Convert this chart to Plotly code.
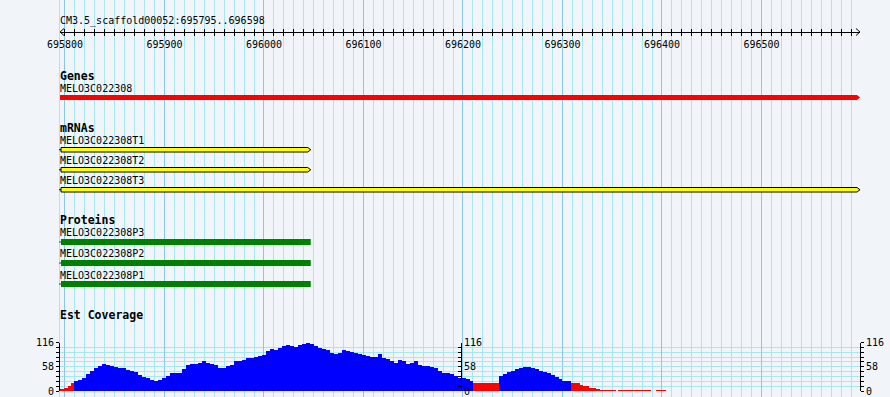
import plotly.graph_objects as go

# ---------------- data ----------------
region_start = 695795
region_end = 696598
ruler_title = "CM3.5_scaffold00052:695795..696598"
ruler_tick0 = 695800

gene_names = ["MELO3C022308"]
gene_starts = [695795]
gene_ends = [696599]

mrna_names = ["MELO3C022308T1", "MELO3C022308T2", "MELO3C022308T3"]
mrna_starts = [695796, 695796, 695796]
mrna_ends = [696047, 696047, 696599]

protein_names = ["MELO3C022308P3", "MELO3C022308P2", "MELO3C022308P1"]
protein_starts = [695796, 695796, 695796]
protein_ends = [696047, 696047, 696047]

track_titles = ["Genes", "mRNAs", "Proteins", "Est Coverage"]

cov_pos = [695795, 695799, 695803, 695806, 695809, 695813, 695817, 695821, 695825, 695829,
           695833, 695837, 695841, 695845, 695849, 695853, 695857, 695861, 695865, 695869,
           695873, 695877, 695881, 695885, 695889, 695893, 695898, 695902, 695906, 695910,
           695914, 695918, 695922, 695926, 695930, 695934, 695938, 695942, 695946, 695950,
           695954, 695958, 695962, 695966, 695970, 695974, 695978, 695982, 695986, 695990,
           695994, 695998, 696002, 696006, 696010, 696014, 696018, 696022, 696026, 696030,
           696034, 696038, 696042, 696046, 696050, 696054, 696058, 696062, 696066, 696070,
           696074, 696078, 696082, 696086, 696090, 696094, 696099, 696103, 696107, 696111,
           696115, 696119, 696123, 696127, 696131, 696135, 696139, 696143, 696147, 696151,
           696155, 696159, 696163, 696167, 696171, 696175, 696179, 696183, 696187, 696191,
           696195, 696199, 696203, 696207, 696210, 696236, 696240, 696244, 696248, 696252,
           696256, 696260, 696264, 696268, 696272, 696276, 696280, 696284, 696288, 696292,
           696296, 696300, 696304, 696309, 696318, 696321, 696327, 696334, 696338, 696354,
           696356, 696389, 696394]
cov_val = [5, 8, 13, 18, 25, 27, 31, 40, 48, 55,
           60, 64, 62, 59, 57, 56, 54, 50, 48, 45,
           39, 33, 30, 27, 23, 27, 31, 37, 42, 44,
           44, 52, 63, 64, 65, 68, 71, 68, 65, 63,
           55, 55, 59, 63, 71, 71, 74, 80, 80, 82,
           84, 87, 96, 100, 97, 104, 108, 110, 108, 105,
           111, 113, 115, 112, 108, 104, 101, 97, 91, 89,
           92, 97, 95, 93, 92, 88, 85, 84, 82, 81,
           89, 78, 76, 72, 66, 75, 72, 64, 66, 72,
           62, 60, 59, 57, 55, 47, 44, 43, 40, 36,
           32, 30, 28, 24, 18, 36, 41, 45, 48, 52,
           54, 57, 57, 55, 52, 49, 45, 43, 38, 33,
           29, 25, 23, 19, 15, 11, 7, 5, 2, 0,
           2, 0, 2]
cov_end = 696404
cov_max = 116
cov_label_step = 58
cov_minor_step = 11.6
cov_low_threshold = 20

assert len(cov_pos) == len(cov_val)

# ---------------- geometry / style ----------------
W, H = 890, 397
PX_L, PX_R = 60, 860
bpp = (region_end + 1 - region_start) / (PX_R - PX_L)   # bp per pixel
full_x0 = region_start - PX_L * bpp
full_x1 = full_x0 + W * bpp
dom = [PX_L / W, PX_R / W]

BG = "#F1F5FA"
GRID_MINOR = "#A6E8EF"
GRID_MAJOR = "#88C8EA"
MONO = "DejaVu Sans Mono"

shapes = []
annotations = []


def label(text, y, bold=False, size=10):
    annotations.append(dict(
        x=region_start, y=y, xref="x", yref="y", xanchor="left", yanchor="middle",
        text=("<b>%s</b>" % text) if bold else text, showarrow=False, xshift=-2,
        font=dict(family=MONO, size=size, color="black")))


def arrow_box(x0, x1, ytop, ybot, tip_px, fill, line_color=None, lw=0):
    tip = tip_px * bpp
    ym = (ytop + ybot) / 2
    path = "M %f,%f L %f,%f L %f,%f L %f,%f L %f,%f Z" % (
        x0, ytop, x1 - tip, ytop, x1, ym, x1 - tip, ybot, x0, ybot)
    shapes.append(dict(type="path", path=path, xref="x", yref="y", fillcolor=fill,
                       line=dict(color=line_color or fill, width=lw), layer="above"))


def stub(x0, ym, color):
    shapes.append(dict(type="line", x0=x0 - 2 * bpp, x1=x0, y0=ym, y1=ym, xref="x", yref="y",
                       line=dict(color=color, width=1), layer="above"))


# extra grid line at panel left edge
shapes.append(dict(type="line", x0=region_start - 0.5 * bpp, x1=region_start - 0.5 * bpp,
                   y0=0, y1=1, xref="x", yref="paper",
                   line=dict(color=GRID_MINOR, width=1), layer="below"))

# ruler arrow heads
RY = 32
for xe, d in [(region_start, 1), (region_end + 1, -1)]:
    shapes.append(dict(type="path",
                       path="M %f,%f L %f,%f L %f,%f" % (xe + d * 4 * bpp, RY - 3.5, xe, RY,
                                                       xe + d * 4 * bpp, RY + 3.5),
                       xref="x", yref="y", line=dict(color="black", width=1), layer="above"))

label(ruler_title, 21)

# Genes
label(track_titles[0], 76, bold=True, size=11.5)
gene_rows = [(88, 95, 100)]
for name, s, e, (ly, yt, yb) in zip(gene_names, gene_starts, gene_ends, gene_rows):
    label(name, ly)
    arrow_box(s, e, yt, yb, 3, "#FF0000")

# mRNAs
label(track_titles[1], 128, bold=True, size=11.5)
mrna_rows = [(140, 147.5, 152), (160, 167.5, 172), (180, 187.5, 192)]
for name, s, e, (ly, yt, yb) in zip(mrna_names, mrna_starts, mrna_ends, mrna_rows):
    label(name, ly)
    stub(s, (yt + yb) / 2, "black")
    arrow_box(s, e, yt, yb, 3, "#FFFF00", "black", 1)

# Proteins
label(track_titles[2], 220, bold=True, size=11.5)
prot_rows = [(232, 239, 245), (253, 260, 266), (275, 281, 287)]
for name, s, e, (ly, yt, yb) in zip(protein_names, protein_starts, protein_ends, prot_rows):
    label(name, ly)
    stub(s, (yt + yb) / 2, "#006000")
    shapes.append(dict(type="rect", x0=s, x1=e, y0=yt, y1=yb, xref="x", yref="y",
                       fillcolor="#008000", line=dict(width=0), layer="above"))

# Coverage
label(track_titles[3], 315, bold=True, size=11.5)

cov_widths = [b - a for a, b in zip(cov_pos, cov_pos[1:] + [cov_end])]
cov_colors = ["#FF0000" if v < cov_low_threshold else "#0000FF" for v in cov_val]

fig = go.Figure()
fig.add_trace(go.Scatter(x=[], y=[], xaxis="x", yaxis="y", showlegend=False))
fig.add_trace(go.Scatter(x=[], y=[], xaxis="x2", yaxis="y", showlegend=False))
fig.add_trace(go.Scatter(x=[], y=[], xaxis="x3", yaxis="y", showlegend=False))
fig.add_trace(go.Scatter(x=[], y=[], xaxis="x4", yaxis="y", showlegend=False))
fig.add_trace(go.Bar(x=cov_pos, y=cov_val, width=cov_widths, offset=0,
                     marker=dict(color=cov_colors, line=dict(width=0)),
                     xaxis="x2", yaxis="y2", showlegend=False, hoverinfo="skip"))
fig.add_trace(go.Scatter(x=[], y=[], xaxis="x2", yaxis="y3", showlegend=False))
fig.add_trace(go.Scatter(x=[], y=[], xaxis="x2", yaxis="y4", showlegend=False))

cov_dom = [(H - 391) / H, (H - 342.5) / H]
tickfont = dict(family=MONO, size=10, color="black")
ruler_pos = 1 - RY / H

cov_axis_common = dict(range=[0, cov_max], tickmode="linear", tick0=0, dtick=cov_label_step,
                       showline=True, linecolor="black", linewidth=1, tickcolor="black",
                       ticklen=3, tickwidth=1, tickfont=tickfont, zeroline=False,
                       fixedrange=True, automargin=False)

fig.update_layout(
    template="none",
    width=W, height=H, autosize=False,
    margin=dict(l=0, r=0, t=0, b=0, pad=0),
    paper_bgcolor=BG, plot_bgcolor="rgba(0,0,0,0)",
    showlegend=False, bargap=0, hovermode=False,
    shapes=shapes, annotations=annotations,
    xaxis=dict(domain=[0, 1], range=[full_x0, full_x1], visible=False, fixedrange=True,
               automargin=False),
    yaxis=dict(domain=[0, 1], range=[H, 0], visible=False, fixedrange=True, automargin=False),
    xaxis2=dict(domain=dom, range=[region_start, region_end + 1], anchor="y",
                showgrid=True, gridcolor=GRID_MAJOR, gridwidth=1,
                tickmode="linear", tick0=ruler_tick0, dtick=100,
                showticklabels=False, ticks="", showline=False, zeroline=False,
                minor=dict(showgrid=True, gridcolor=GRID_MINOR, gridwidth=1,
                           tick0=ruler_tick0, dtick=10, ticks=""),
                fixedrange=True, automargin=False),
    xaxis3=dict(overlaying="x2", anchor="free", position=ruler_pos, side="bottom",
                range=[region_start, region_end + 1], showgrid=False, zeroline=False,
                showline=True, linecolor="black", linewidth=1,
                tickmode="linear", tick0=ruler_tick0, dtick=100, tickformat="d",
                ticks="outside", ticklen=3, tickwidth=1, tickcolor="black",
                tickfont=tickfont,
                minor=dict(ticks="outside", ticklen=3, tickwidth=1, tickcolor="black",
                           tick0=ruler_tick0, dtick=10, showgrid=False),
                fixedrange=True, automargin=False),
    xaxis4=dict(overlaying="x2", anchor="free", position=ruler_pos, side="bottom",
                range=[region_start, region_end + 1], showgrid=False, zeroline=False,
                showline=False, showticklabels=False,
                tickmode="linear", tick0=ruler_tick0, dtick=100,
                ticks="inside", ticklen=3, tickwidth=1, tickcolor="black",
                minor=dict(ticks="inside", ticklen=3, tickwidth=1, tickcolor="black",
                           tick0=ruler_tick0, dtick=10, showgrid=False),
                fixedrange=True, automargin=False),
    yaxis2=dict(domain=cov_dom, anchor="x2", side="left", ticks="outside",
                showgrid=True, gridcolor=GRID_MINOR, gridwidth=1,
                minor=dict(ticks="outside", ticklen=3, tickcolor="black", tick0=0,
                           dtick=cov_minor_step, showgrid=True, gridcolor=GRID_MINOR),
                **cov_axis_common),
    yaxis3=dict(overlaying="y2", anchor="free", position=461 / W, side="right",
                ticks="inside", showgrid=False,
                minor=dict(ticks="inside", ticklen=3, tickcolor="black", tick0=0,
                           dtick=cov_minor_step, showgrid=False),
                **cov_axis_common),
    yaxis4=dict(overlaying="y2", anchor="x2", side="right", ticks="outside", showgrid=False,
                minor=dict(ticks="outside", ticklen=3, tickcolor="black", tick0=0,
                           dtick=cov_minor_step, showgrid=False),
                **cov_axis_common),
)

fig.write_html(
    "out.html",
    config={"displayModeBar": False, "staticPlot": True},
    post_script="document.body.style.margin='0px';document.body.style.overflow='hidden';",
)
